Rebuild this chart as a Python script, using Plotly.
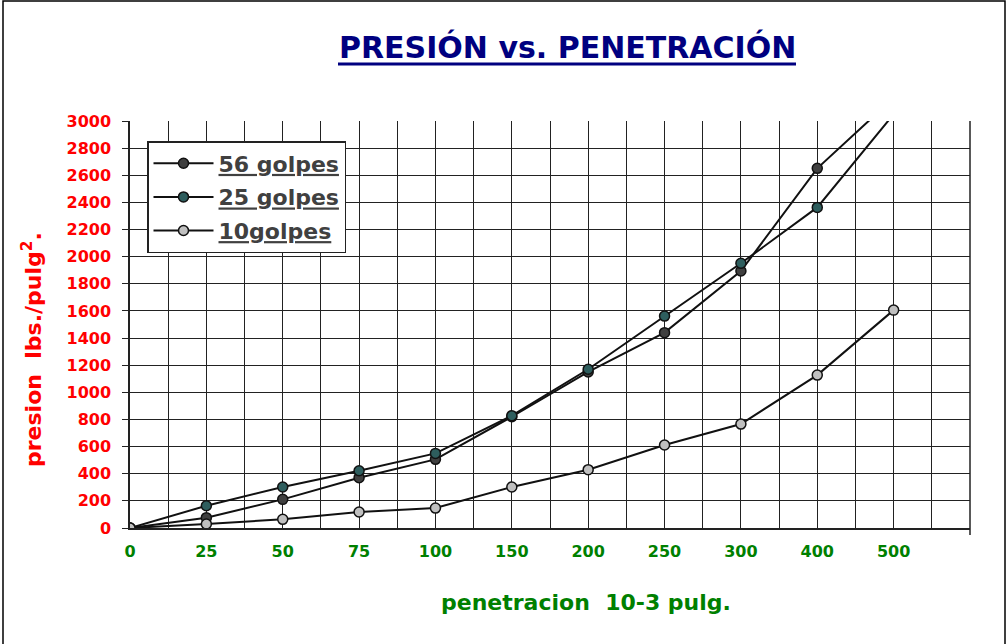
import plotly.graph_objects as go

x_labels = ["0", "25", "50", "75", "100", "150", "200", "250", "300", "400", "500"]
golpes_56 = [0, 76, 211, 371, 506, 820, 1150, 1440, 1894, 2651, 3170]
golpes_25 = [0, 164, 302, 422, 550, 828, 1170, 1562, 1951, 2363, 3050]
golpes_10 = [0, 29, 64, 118, 147, 302, 430, 612, 766, 1127, 1606]
y_ticks = list(range(0, 3001, 200))

x_pos = list(range(len(x_labels)))

series = [
    ("56 golpes", golpes_56, "#404040"),
    ("25 golpes", golpes_25, "#2e5e5e"),
    ("10golpes", golpes_10, "#c0c0c0"),
]

FONT = "DejaVu Sans, Arial, sans-serif"

fig = go.Figure()
for name, vals, col in series:
    fig.add_trace(go.Scatter(
        x=x_pos, y=vals, mode="lines+markers",
        name="<span style='text-decoration:underline'>" + name + "</span>",
        legendgroup=name,
        line=dict(color="#111111", width=2),
        marker=dict(color=col, size=10, line=dict(color="#111111", width=1.5)),
    ))

L, R, T, B = 130, 38, 121, 116
W, H = 1008, 644
pw, ph = W - L - R, H - T - B

def px(xp):
    return (xp - L) / pw

def py(yp):
    return (H - B - yp) / ph

fig.update_layout(
    width=W, height=H,
    margin=dict(l=L, r=R, t=T, b=B),
    paper_bgcolor="white", plot_bgcolor="white",
    font=dict(family=FONT),
    showlegend=True,
    legend=dict(
        x=px(147), y=py(141), xanchor="left", yanchor="top",
        bgcolor="white", bordercolor="#222222", borderwidth=1.5,
        font=dict(size=22, color="#404040", family=FONT, weight="bold"),
        itemwidth=60, tracegroupgap=2,
    ),
    xaxis=dict(
        range=[0, 11], tickvals=x_pos, ticktext=x_labels,
        showgrid=True, gridcolor="#222222", gridwidth=1.4,
        minor=dict(dtick=0.5, tick0=0, showgrid=True, gridcolor="#222222", gridwidth=1.4),
        zeroline=False, showline=True, linecolor="#222222", linewidth=1.5,
        ticks="", ticklabelstandoff=8,
        tickfont=dict(size=16, color="#008000", family=FONT, weight="bold"),
        mirror=False,
    ),
    yaxis=dict(
        range=[0, 3000], tickvals=y_ticks,
        showgrid=True, gridcolor="#222222", gridwidth=1.4,
        zeroline=False, showline=True, linecolor="#222222", linewidth=1.5,
        ticks="outside", ticklen=6, tickcolor="#222222", ticklabelstandoff=8,
        tickfont=dict(size=16, color="#ff0000", family=FONT, weight="bold"),
    ),
)

# Title
fig.add_annotation(
    x=px(567), y=py(47), xref="paper", yref="paper", showarrow=False,
    xanchor="center", yanchor="middle",
    text="PRESIÓN vs. PENETRACIÓN",
    font=dict(size=30, color="#000080", family=FONT, weight="bold"),
)
fig.add_shape(type="line", xref="paper", yref="paper",
              x0=px(338), x1=px(796), y0=py(64), y1=py(64),
              line=dict(color="#000080", width=3))

# Axis titles
fig.add_annotation(
    x=px(586), y=py(602), xref="paper", yref="paper", showarrow=False,
    xanchor="center", yanchor="middle",
    text="penetracion  10-3 pulg.",
    font=dict(size=22, color="#008000", family=FONT, weight="bold"),
)
fig.add_annotation(
    x=px(32), y=py(350), xref="paper", yref="paper", showarrow=False, textangle=-90,
    xanchor="center", yanchor="middle",
    text="presion  lbs./pulg<sup>2</sup>.",
    font=dict(size=22, color="#ff0000", family=FONT, weight="bold"),
)

# Right border of plot
fig.add_shape(type="line", xref="paper", yref="paper",
              x0=1, x1=1, y0=py(535), y1=1, line=dict(color="#222222", width=1.5))

# Page border
fig.add_shape(type="rect", xref="paper", yref="paper",
              x0=px(3), x1=px(1005), y0=py(700), y1=py(1),
              line=dict(color="#000000", width=1.5), fillcolor="rgba(0,0,0,0)", layer="below")

fig.write_html("out.html", config={"displayModeBar": False},
               post_script="document.body.style.margin='0';")
